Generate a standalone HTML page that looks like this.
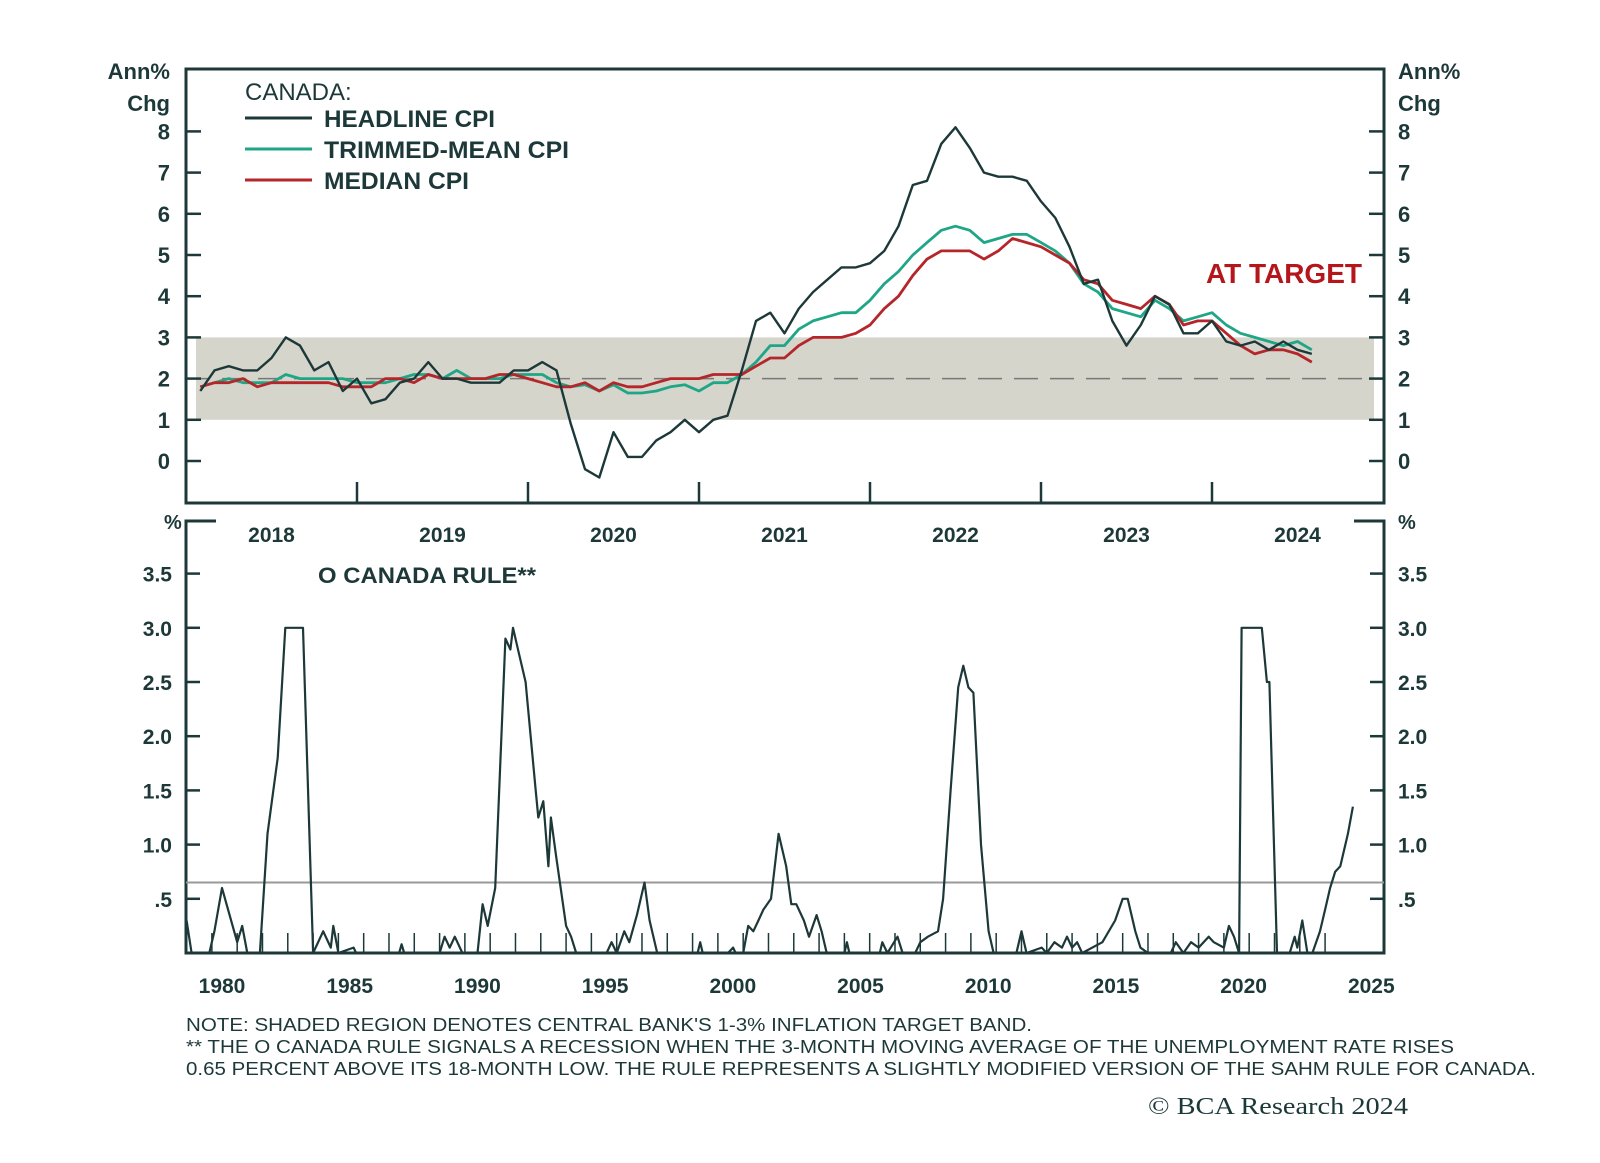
<!DOCTYPE html>
<html><head><meta charset="utf-8"><style>
html,body{margin:0;padding:0;background:#fff}
svg text{font-family:"Liberation Sans",sans-serif;fill:#1d3838}
</style></head><body>
<svg id="c" width="1600" height="1158" xmlns="http://www.w3.org/2000/svg"></svg>
<script>
const headline=[1.7,2.2,2.3,2.2,2.2,2.5,3.0,2.8,2.2,2.4,1.7,2.0,1.4,1.5,1.9,2.0,2.4,2.0,2.0,1.9,1.9,1.9,2.2,2.2,2.4,2.2,0.9,-0.2,-0.4,0.7,0.1,0.1,0.5,0.7,1.0,0.7,1.0,1.1,2.2,3.4,3.6,3.1,3.7,4.1,4.4,4.7,4.7,4.8,5.1,5.7,6.7,6.8,7.7,8.1,7.6,7.0,6.9,6.9,6.8,6.3,5.9,5.2,4.3,4.4,3.4,2.8,3.3,4.0,3.8,3.1,3.1,3.4,2.9,2.8,2.9,2.7,2.9,2.7,2.6];
const trimmed=[1.8,1.9,2.0,1.9,1.9,1.9,2.1,2.0,2.0,2.0,2.0,1.9,1.9,1.9,2.0,2.1,2.1,2.0,2.2,2.0,2.0,2.0,2.1,2.1,2.1,1.9,1.8,1.85,1.7,1.85,1.65,1.65,1.7,1.8,1.85,1.7,1.9,1.9,2.1,2.4,2.8,2.8,3.2,3.4,3.5,3.6,3.6,3.9,4.3,4.6,5.0,5.3,5.6,5.7,5.6,5.3,5.4,5.5,5.5,5.3,5.1,4.8,4.3,4.1,3.7,3.6,3.5,3.9,3.7,3.4,3.5,3.6,3.3,3.1,3.0,2.9,2.8,2.9,2.7];
const median=[1.8,1.9,1.9,2.0,1.8,1.9,1.9,1.9,1.9,1.9,1.8,1.8,1.8,2.0,2.0,1.9,2.1,2.0,2.0,2.0,2.0,2.1,2.1,2.0,1.9,1.8,1.8,1.9,1.7,1.9,1.8,1.8,1.9,2.0,2.0,2.0,2.1,2.1,2.1,2.3,2.5,2.5,2.8,3.0,3.0,3.0,3.1,3.3,3.7,4.0,4.5,4.9,5.1,5.1,5.1,4.9,5.1,5.4,5.3,5.2,5.0,4.8,4.4,4.3,3.9,3.8,3.7,4.0,3.8,3.3,3.4,3.4,3.1,2.8,2.6,2.7,2.7,2.6,2.4];
const topTicks=[0,1,2,3,4,5,6,7,8];
const topYears=[2018,2019,2020,2021,2022,2023,2024];
const sahmYears=[1978.6,1978.8,1979.5,1979.7,1980.0,1980.3,1980.6,1980.8,1981.0,1981.5,1981.8,1982.2,1982.5,1983.2,1983.6,1984.0,1984.3,1984.4,1984.6,1985.2,1985.3,1987.0,1987.1,1987.2,1988.6,1988.8,1989.0,1989.2,1989.5,1990.1,1990.3,1990.5,1990.8,1991.2,1991.4,1991.5,1991.7,1992.0,1992.4,1992.5,1992.7,1992.9,1993.0,1993.2,1993.6,1993.8,1994.0,1995.2,1995.4,1995.6,1995.9,1996.1,1996.4,1996.7,1996.9,1997.2,1998.8,1998.9,1999.0,2000.0,2000.2,2000.3,2000.6,2000.8,2001.0,2001.2,2001.4,2001.7,2002.0,2002.3,2002.5,2002.7,2003.0,2003.2,2003.5,2003.7,2003.9,2004.6,2004.7,2004.8,2006.0,2006.1,2006.3,2006.7,2006.9,2007.4,2007.6,2007.9,2008.3,2008.5,2008.8,2009.1,2009.3,2009.5,2009.7,2010.0,2010.3,2010.5,2011.4,2011.6,2011.8,2012.4,2012.6,2012.9,2013.2,2013.4,2013.6,2013.8,2014.0,2014.8,2015.3,2015.6,2015.8,2016.1,2016.3,2016.6,2017.5,2017.7,2018.0,2018.3,2018.6,2019.0,2019.2,2019.6,2019.8,2020.0,2020.2,2020.3,2021.1,2021.3,2021.4,2021.7,2022.2,2022.4,2022.5,2022.7,2022.9,2023.1,2023.4,2023.6,2023.8,2024.0,2024.2,2024.5,2024.7];
const sahmValues=[0.3,0,0,0.2,0.6,0.35,0.1,0.25,0,0,1.1,1.8,3.0,3.0,0,0.2,0.05,0.25,0,0.05,0,0,0.08,0,0,0.15,0.05,0.15,0,0,0.45,0.25,0.6,2.9,2.8,3.0,2.8,2.5,1.5,1.25,1.4,0.8,1.25,0.9,0.25,0.15,0,0,0.1,0,0.2,0.1,0.35,0.65,0.3,0,0,0.1,0,0,0.05,0,0,0.25,0.2,0.3,0.4,0.5,1.1,0.8,0.45,0.45,0.3,0.15,0.35,0.2,0,0,0.1,0,0,0.1,0,0.15,0,0,0.1,0.15,0.2,0.5,1.5,2.45,2.65,2.45,2.4,1.0,0.2,0,0,0.2,0,0.05,0,0.1,0.05,0.15,0.05,0.1,0,0.1,0.3,0.5,0.5,0.2,0.05,0,0,0.1,0,0.1,0.05,0.15,0.1,0.05,0.25,0.15,0,3.0,3.0,2.5,2.5,0,0,0.15,0.05,0.3,0,0,0.2,0.4,0.6,0.75,0.8,1.1,1.35];
const botTicks=[0.5,1.0,1.5,2.0,2.5,3.0,3.5];
const botTickLabels=[".5","1.0","1.5","2.0","2.5","3.0","3.5"];
const botYears=[1980,1985,1990,1995,2000,2005,2010,2015,2020,2025];
const threshold=0.65;

const svg=document.getElementById('c');
const NS='http://www.w3.org/2000/svg';
const DARK='#1d3838';
function mk(tag,attrs,txt){const e=document.createElementNS(NS,tag);for(const k in attrs)e.setAttribute(k,attrs[k]);if(txt!==undefined)e.textContent=txt;svg.appendChild(e);return e;}
const L=186,R=1384;
const yT=v=>461-41.2*v;
const xT=i=>186+(i+1)/12*171;
let e;
e=mk('rect',{x:L+10,y:yT(3),width:R-L-20,height:yT(1)-yT(3),fill:'#d5d5cc'});


e=mk('line',{x1:L,x2:R,y1:yT(2),y2:yT(2),stroke:'#777',"stroke-width":1.5,"stroke-dasharray":"24,12"});


e=mk('path',{d:`M${L},503 V69 H${R} V503 Z`,fill:'none',stroke:DARK,"stroke-width":3});


topTicks.forEach(v=>{
  e=mk('line',{x1:L,x2:L+15,y1:yT(v),y2:yT(v),stroke:DARK,"stroke-width":2.5});
  
  
  e=mk('line',{x1:R-15,x2:R,y1:yT(v),y2:yT(v),stroke:DARK,"stroke-width":2.5});
  
  
  e=mk('text',{x:170,y:yT(v)+8,"text-anchor":"end","font-size":22,"font-weight":"bold"},String(v));
  
  
  e=mk('text',{x:1398,y:yT(v)+8,"font-size":22,"font-weight":"bold"},String(v));
  
  
});
topYears.forEach((y,i)=>{
  const xb=186+(i+1)*171;
  if(i<6){e=mk('line',{x1:xb,x2:xb,y1:503,y2:482,stroke:DARK,"stroke-width":2.5});
  
  }
  e=mk('text',{x:186+(i+0.5)*171,y:542,"text-anchor":"middle","font-size":21,"font-weight":"bold"},String(y));
  
  
});
function series(arr,col,w,name){
  const d=arr.map((v,i)=>(i?'L':'M')+xT(i).toFixed(1)+','+yT(v).toFixed(1)).join('');
  const p=mk('path',{d:d,fill:'none',stroke:col,"stroke-width":w,"stroke-linejoin":"round"});
  
  
}
series(trimmed,'#1fa686',2.8,'trimmed-mean-line');
series(median,'#b5262a',2.8,'median-line');
series(headline,DARK,2.4,'headline-line');
e=mk('text',{x:245,y:100,"font-size":24},'CANADA:');


[['HEADLINE CPI',DARK,118,171],['TRIMMED-MEAN CPI','#1fa686',149,245],['MEDIAN CPI','#b5262a',180,145]].forEach(l=>{
  e=mk('line',{x1:245,x2:312,y1:l[2],y2:l[2],stroke:l[1],"stroke-width":3});
  
  
  e=mk('text',{x:324,y:l[2]+9,"font-size":24,"font-weight":"bold",textLength:l[3],lengthAdjust:"spacingAndGlyphs"},l[0]);
  
  
});
e=mk('text',{x:1362,y:283,"text-anchor":"end","font-size":28,"font-weight":"bold",style:"fill:#b5161c"},'AT TARGET');


[[170,'end'],[1398,'start']].forEach(a=>{
  e=mk('text',{x:a[0],y:79,"text-anchor":a[1],"font-size":22,"font-weight":"bold"},'Ann%');
  
  
  e=mk('text',{x:a[0],y:111,"text-anchor":a[1],"font-size":22,"font-weight":"bold"},'Chg');
  
  
});
const yB=v=>953-108.4*v;
const xB=t=>222+(t-1980)*25.3;
e=mk('path',{d:`M${L+30},521 H${L} V953 H${R} V521 H${R-30}`,fill:'none',stroke:DARK,"stroke-width":3});


e=mk('line',{x1:L,x2:R,y1:yB(threshold),y2:yB(threshold),stroke:'#999',"stroke-width":2});


botTicks.forEach((v,i)=>{
  e=mk('line',{x1:L,x2:L+14,y1:yB(v),y2:yB(v),stroke:DARK,"stroke-width":2.5});
  
  
  e=mk('line',{x1:R-14,x2:R,y1:yB(v),y2:yB(v),stroke:DARK,"stroke-width":2.5});
  
  
  e=mk('text',{x:172,y:yB(v)+8,"text-anchor":"end","font-size":21,"font-weight":"bold"},botTickLabels[i]);
  
  
  e=mk('text',{x:1398,y:yB(v)+8,"font-size":21,"font-weight":"bold"},botTickLabels[i]);
  
  
});
for(let y=1979.6;y<2024;y+=1){
  e=mk('line',{x1:xB(y),x2:xB(y),y1:953,y2:933,stroke:DARK,"stroke-width":1.5});
  
  
}
botYears.forEach((y,i)=>{
  e=mk('text',{x:xB(y)+i*1.2,y:993,"text-anchor":"middle","font-size":21,"font-weight":"bold"},String(y));
  
  
});
const dB=sahmYears.map((t,i)=>(i?'L':'M')+xB(t).toFixed(1)+','+yB(sahmValues[i]).toFixed(1)).join('');
e=mk('path',{d:dB,fill:'none',stroke:DARK,"stroke-width":2.2,"stroke-linejoin":"round"});


e=mk('text',{x:164,y:529,"font-size":20,"font-weight":"bold"},'%');


e=mk('text',{x:1398,y:529,"font-size":20,"font-weight":"bold"},'%');


e=mk('text',{x:318,y:583,"font-size":22,"font-weight":"bold",textLength:218,lengthAdjust:"spacingAndGlyphs"},'O CANADA RULE**');


const notes=["NOTE: SHADED REGION DENOTES CENTRAL BANK'S 1-3% INFLATION TARGET BAND.","** THE O CANADA RULE SIGNALS A RECESSION WHEN THE 3-MONTH MOVING AVERAGE OF THE UNEMPLOYMENT RATE RISES","0.65 PERCENT ABOVE ITS 18-MONTH LOW. THE RULE REPRESENTS A SLIGHTLY MODIFIED VERSION OF THE SAHM RULE FOR CANADA."];
const nw=[846,1268,1350];
notes.forEach((n,i)=>{
  e=mk('text',{x:186,y:1031+i*22,"font-size":18,textLength:nw[i],lengthAdjust:"spacingAndGlyphs"},n);
  
  
});
e=mk('text',{x:1148,y:1114,"font-size":24,textLength:260,lengthAdjust:"spacingAndGlyphs",style:"font-family:'Liberation Serif',serif"},'© BCA Research 2024');


</script>
</body></html>
